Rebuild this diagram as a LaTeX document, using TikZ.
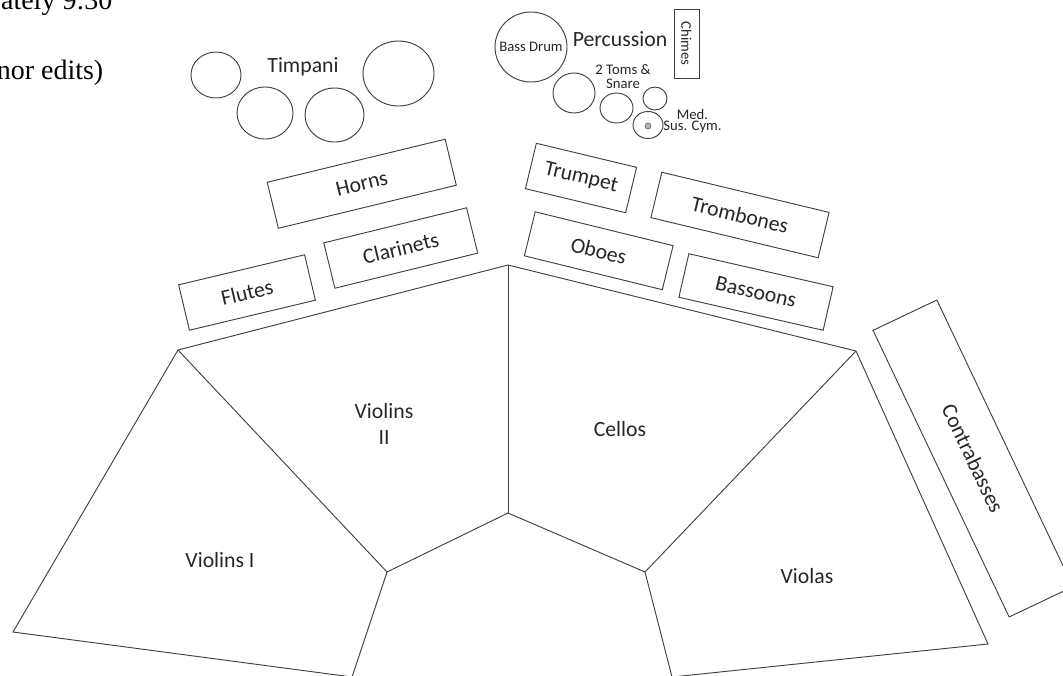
\documentclass[tikz,border=0pt]{standalone}
\usepackage{fontspec}
\setmainfont{Carlito}
\newfontfamily\notefont{Liberation Serif}
\usetikzlibrary{shapes.geometric}

\begin{document}
\begin{tikzpicture}[
        x=0.75pt, y=-0.75pt,
        every node/.style={align=center, font=\fontsize{16.3}{19.5}\selectfont, text=black!85},
        section/.style={draw=black!75, line width=0.7pt, inner sep=0pt, minimum height=35pt},
        drum/.style={ellipse, draw=black!75, line width=0.7pt, inner sep=0pt},
        smalltext/.style={font=\fontsize{11}{10.5}\selectfont},
        notetext/.style={anchor=base east, text=black, font=\notefont\fontsize{21}{25}\selectfont},
        stage/.style={draw=black!75, line width=0.7pt, line join=miter}
    ]
    \clip (0,0) rectangle (1063,675);

    % page text cut by the frame
    \node[notetext] (notetop) at (117,9) {ately 9:30};
    \node[notetext] (notebottom) at (108,79) {nor edits)};

    % timpani
    \node[drum, minimum width=37.5pt, minimum height=34.5pt] (timpA) at (216,75) {};
    \node[drum, minimum width=42pt, minimum height=39pt] (timpB) at (265,113) {};
    \node[drum, minimum width=44.25pt, minimum height=40.5pt] (timpC) at (334.5,115) {};
    \node[drum, minimum width=53.25pt, minimum height=48.75pt] (timpD) at (398.5,73.5) {};
    \node (timpani) at (303,67) {Timpani};

    % percussion
    \node[drum, minimum width=54pt, minimum height=52.5pt] (bassdrum) at (531,47) {};
    \node[smalltext] (bassdrumlabel) at (bassdrum) {Bass Drum};
    \node (percussion) at (620,39) {Percussion};
    \node[section, smalltext, minimum width=51.75pt, minimum height=18.75pt, rotate=-90] (chimes) at (686.5,43.5) {Chimes};
    \node[smalltext] (toms) at (623,76.5) {2 Toms \&\\Snare};
    \node[drum, minimum width=31.5pt, minimum height=30pt] (tomA) at (574,93) {};
    \node[drum, minimum width=24.75pt, minimum height=22.5pt] (tomB) at (616.5,108) {};
    \node[drum, minimum width=18pt, minimum height=17.25pt] (tomC) at (655,98.5) {};
    \node[drum, minimum width=22.5pt, minimum height=20.25pt] (cymbal) at (648,125) {};
    \node[circle, draw=black!55, fill=black!30, line width=0.6pt, inner sep=0pt, minimum size=4.5pt] (cymbalbell) at (648,126) {};
    \node[font=\fontsize{11}{8.25}\selectfont] (cymballabel) at (692.5,121.5) {Med.\\Sus. Cym.};

    % winds and brass
    \node[section, minimum width=137.3pt, minimum height=35.5pt, rotate=13.6] (horns) at (361.75,183.75) {Horns};
    \node[section, minimum width=110.3pt, rotate=13.8] (clarinets) at (400.75,248) {Clarinets};
    \node[section, minimum width=97.1pt, rotate=13.4] (flutes) at (247,292.5) {Flutes};
    \node[section, minimum width=77.3pt, rotate=-13.5] (trumpet) at (581,178) {Trumpet};
    \node[section, minimum width=129pt, rotate=-13.5] (trombones) at (740,215) {Trombones};
    \node[section, minimum width=106.5pt, minimum height=34pt, rotate=-13.8] (oboes) at (598.75,250.75) {Oboes};
    \node[section, minimum width=111pt, minimum height=33.5pt, rotate=-12.9] (bassoons) at (756,292) {Bassoons};
    \node[section, minimum width=238pt, minimum height=53pt, rotate=-64.6] (contrabasses) at (973,458.5) {Contrabasses};

    % strings
    \coordinate (stL) at (178,350);
    \coordinate (stM) at (508,265);
    \coordinate (stR) at (856,351);
    \coordinate (inL) at (387,572);
    \coordinate (inM) at (508,513);
    \coordinate (inR) at (645,572);
    \coordinate (vnBL) at (13,632);
    \coordinate (vnBR) at (352,677);
    \coordinate (vaBR) at (988,644);
    \coordinate (vaBL) at (672,677);
    \draw[stage] (vnBL) -- (stL) -- (stM) -- (stR) -- (vaBR) -- (vaBL) -- (inR) -- (inM) -- (inL) -- (vnBR) -- cycle;
    \draw[stage] (stL) -- (inL);
    \draw[stage] (stM) -- (inM);
    \draw[stage] (stR) -- (inR);

    \node (violinsI) at (220,560) {Violins I};
    \node (violinsII) at (384,423.5) {Violins\\II};
    \node (cellos) at (620,429) {Cellos};
    \node (violas) at (807,576) {Violas};
\end{tikzpicture}
\end{document}
